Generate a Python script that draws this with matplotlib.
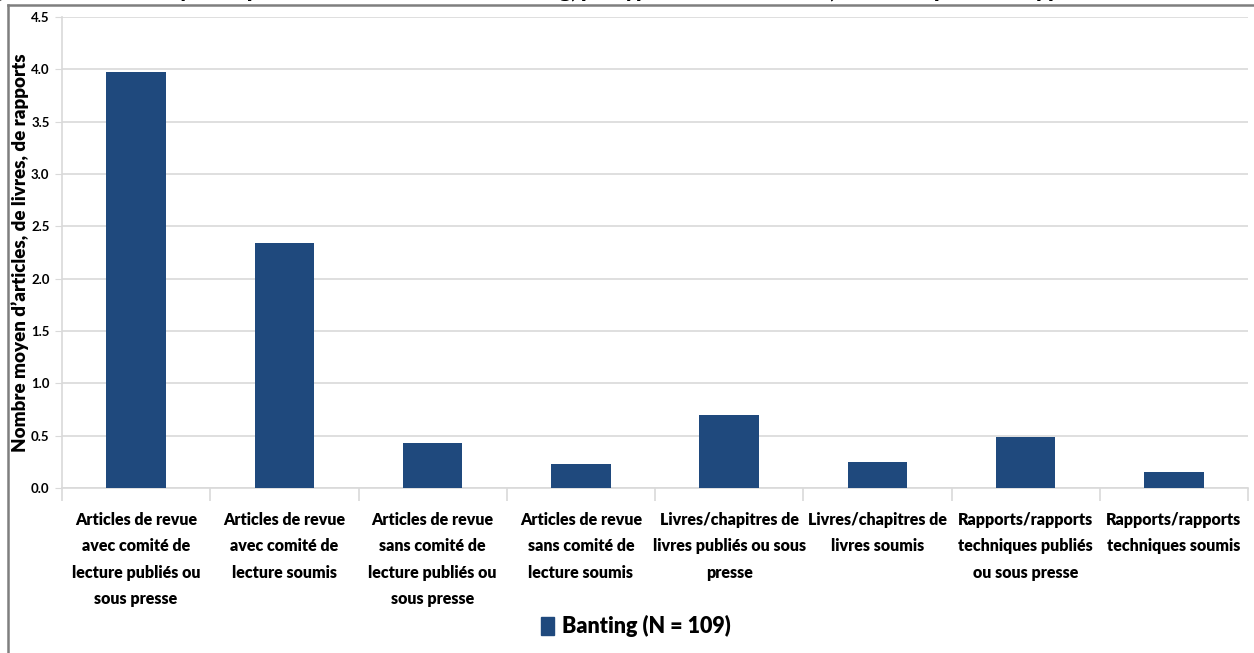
import matplotlib.pyplot as plt
from matplotlib.lines import Line2D
from matplotlib.patches import Rectangle
import numpy as np

categories = [
    "Articles de revue\navec comité de\nlecture publiés ou\nsous presse",
    "Articles de revue\navec comité de\nlecture soumis",
    "Articles de revue\nsans comité de\nlecture publiés ou\nsous presse",
    "Articles de revue\nsans comité de\nlecture soumis",
    "Livres/chapitres de\nlivres publiés ou sous\npresse",
    "Livres/chapitres de\nlivres soumis",
    "Rapports/rapports\ntechniques publiés\nou sous presse",
    "Rapports/rapports\ntechniques soumis",
]
banting = [3.97, 2.34, 0.43, 0.23, 0.70, 0.25, 0.49, 0.15]
yticks = [0.0, 0.5, 1.0, 1.5, 2.0, 2.5, 3.0, 3.5, 4.0, 4.5]

FONT = ["Lato", "DejaVu Sans"]
BAR = "#1F497D"
GRID = "#D9D9D9"

W, H = 1254, 653
fig = plt.figure(figsize=(W / 100, H / 100), dpi=100)
ax = fig.add_axes([62 / W, (H - 488) / H, (1248 - 62) / W, (488 - 17) / H])

x = np.arange(len(categories))
ax.bar(x, banting, width=0.4, color=BAR, zorder=3, label="Banting (N = 109)")

ax.set_xlim(-0.5, len(categories) - 0.5)
ax.set_ylim(0, 4.5)
ax.set_yticks(yticks)
ax.set_yticklabels([f"{v:.1f}" for v in yticks], family=FONT, fontweight="bold", fontsize=9.5)
ax.tick_params(axis="y", length=5, color=GRID, pad=4)
ax.grid(axis="y", color=GRID, linewidth=1.2, zorder=0)

# category labels centred under each bar, tick marks on the boundaries
ax.set_xticks(np.arange(len(categories) + 1) - 0.5)
ax.set_xticklabels([])
ax.tick_params(axis="x", length=9, color=GRID, width=1.2)
for xi, lab in zip(x, categories):
    ax.text(xi, -0.23, lab, ha="center", va="top", family=FONT, fontweight="heavy",
            fontsize=11.5, linespacing=1.8)

for s in ["top", "right"]:
    ax.spines[s].set_visible(False)
for s in ["left", "bottom"]:
    ax.spines[s].set_color(GRID)
    ax.spines[s].set_linewidth(1.2)

ax.set_ylabel("Nombre moyen d’articles, de livres, de rapports", family=FONT,
              fontweight="heavy", fontsize=13.5, labelpad=1)

leg = fig.legend(handles=[Rectangle((0, 0), 1, 1, color=BAR)], labels=["Banting (N = 109)"],
                 loc="center", bbox_to_anchor=(636 / W, 1 - 626 / H), frameon=False,
                 prop={"family": FONT, "weight": "heavy", "size": 15.5},
                 handlelength=0.6, handleheight=0.9, handletextpad=0.4)

# outer frame of the chart
frame_top = 1 - 5 / H
fig.add_artist(Line2D([8 / W, 1], [frame_top, frame_top], color="#7F7F7F",
                      linewidth=1.8, zorder=10))
fig.add_artist(Line2D([8 / W, 8 / W], [0, frame_top], color="#7F7F7F",
                      linewidth=1.8, zorder=10))

# title sits above the frame, mostly out of view
fig.text(-0.02, 1 + 2.5 / H, "Figure 9 : Nombre moyen de publications des boursiers Banting, par type : "
         "articles de revue, livres/chapitres et rapports", family=FONT, fontweight="heavy",
         fontsize=15, va="baseline", ha="left")

fig.savefig("out.png", dpi=100)
